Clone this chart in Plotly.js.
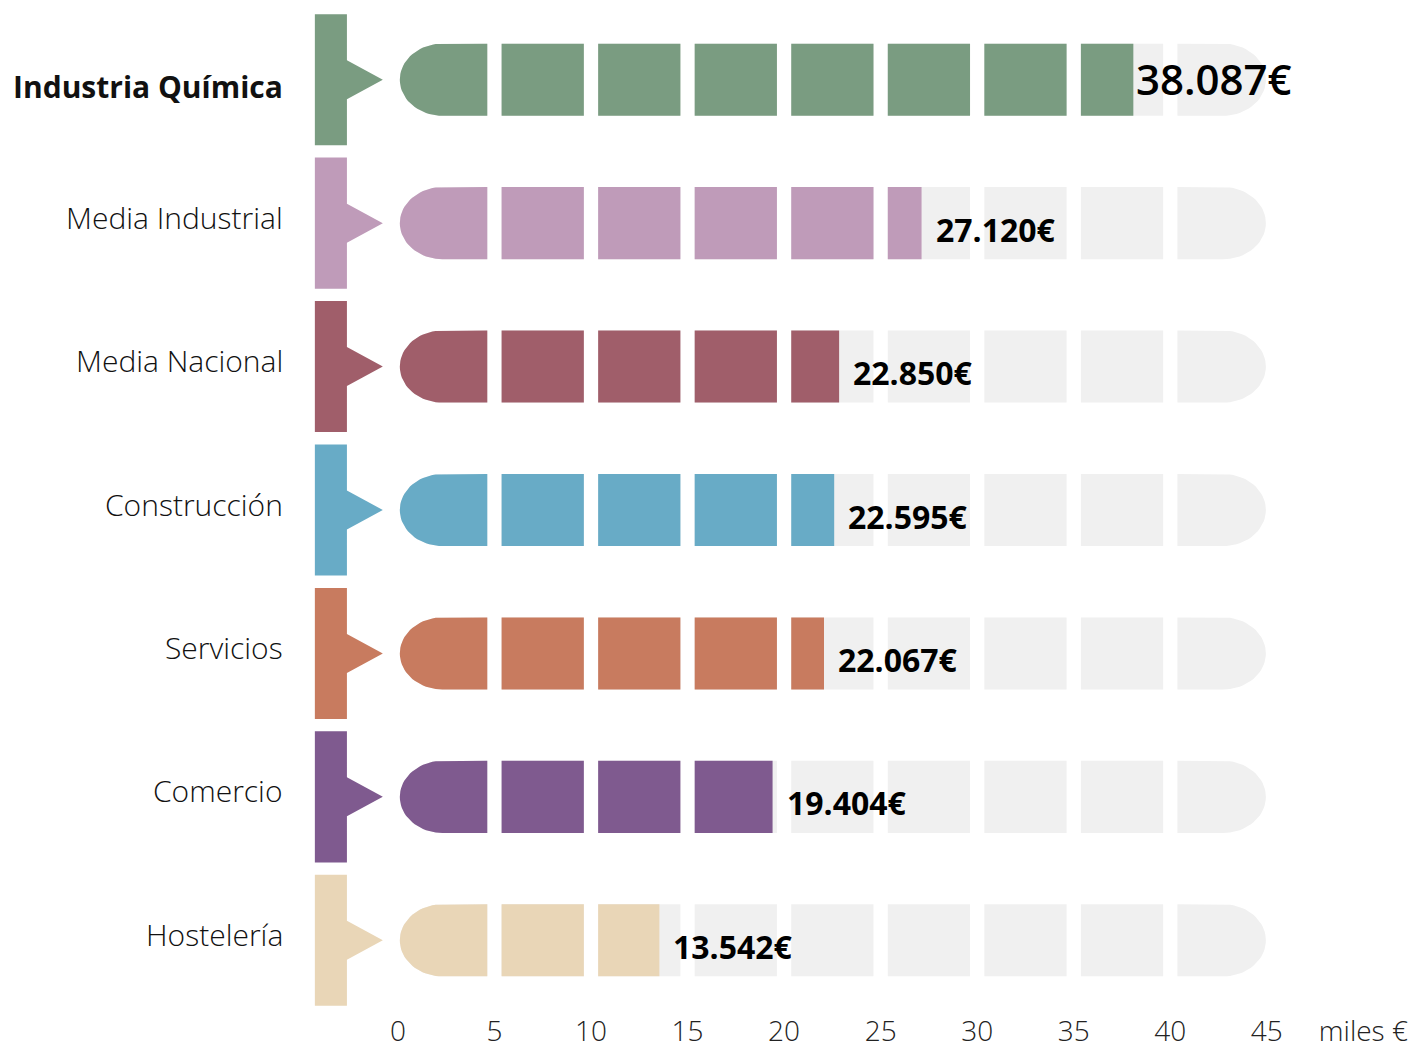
<!DOCTYPE html>
<html>
<head>
<meta charset="utf-8">
<script src="https://cdn.plot.ly/plotly-3.0.1.min.js"></script>
<style>
  html, body { margin: 0; padding: 0; background: #ffffff; }
  #chart { width: 1422px; height: 1049px; }
</style>
</head>
<body>
<div id="chart"></div>
<script>
// ---- data ----
const categories = ['Industria Química', 'Media Industrial', 'Media Nacional', 'Construcción', 'Servicios', 'Comercio', 'Hostelería'];
const values = [38.087, 27.120, 22.850, 22.595, 22.067, 19.404, 13.542];
const valueLabels = ['38.087€', '27.120€', '22.850€', '22.595€', '22.067€', '19.404€', '13.542€'];
const colors = ['#7A9C81', '#BF9BB9', '#A05E6A', '#68ABC6', '#C87B5F', '#7F5A8F', '#E9D6B7'];
const xTickVals = [0, 5, 10, 15, 20, 25, 30, 35, 40, 45, 50];
const xTickText = ['0', '5', '10', '15', '20', '25', '30', '35', '40', '45', 'miles €'];

// ---- styling constants ----
const STEP = 5, NSEG = 9, GAP = 0.37, BARW = 0.5025;
const RX = 2.2;            // horizontal radius of rounded ends (x units)
const GREY = '#F0F0F0';
const FONT = 'Open Sans, Noto Sans, sans-serif';

const rows = categories.map((_, i) => i);
function segStart(k) { return k === 0 ? 0.1 : k * STEP + GAP; }
function segEnd(k) { return k === NSEG - 1 ? NSEG * STEP - 0.05 : (k + 1) * STEP - GAP; }

// rounded-end segment outline (dir = -1 rounds left end, +1 rounds right end)
function roundedSeg(a, b, r, dir, xs, ys) {
  const ry = BARW / 2, n = 40;
  if (dir < 0) {
    xs.push(b, a + RX); ys.push(r - ry, r - ry);
    for (let i = 1; i < n; i++) {
      const t = Math.PI / 2 + Math.PI * i / n;
      xs.push(a + RX + RX * Math.cos(t)); ys.push(r - ry * Math.sin(t));
    }
    xs.push(a + RX, b, b); ys.push(r + ry, r + ry, r - ry);
  } else {
    xs.push(a, b - RX); ys.push(r - ry, r - ry);
    for (let i = 1; i < n; i++) {
      const t = -Math.PI / 2 + Math.PI * i / n;
      xs.push(b - RX + RX * Math.cos(t)); ys.push(r + ry * Math.sin(t));
    }
    xs.push(b - RX, a, a); ys.push(r + ry, r + ry, r - ry);
  }
  xs.push(null); ys.push(null);
}

const traces = [];
const common = { type: 'bar', orientation: 'h', width: BARW, hoverinfo: 'skip', showlegend: false };

// grey middle segments
const gm = { y: [], base: [], x: [] };
rows.forEach(r => {
  for (let k = 1; k < NSEG - 1; k++) {
    gm.y.push(r); gm.base.push(segStart(k)); gm.x.push(segEnd(k) - segStart(k));
  }
});
traces.push(Object.assign({}, common, { y: gm.y, base: gm.base, x: gm.x, marker: { color: GREY, line: { width: 0 } } }));

// coloured fill, middle segments
const cm = { y: [], base: [], x: [], c: [] };
rows.forEach(r => {
  for (let k = 1; k < NSEG; k++) {
    const a = segStart(k);
    if (values[r] > a) {
      cm.y.push(r); cm.base.push(a); cm.x.push(Math.min(segEnd(k), values[r]) - a); cm.c.push(colors[r]);
    }
  }
});
traces.push(Object.assign({}, common, { y: cm.y, base: cm.base, x: cm.x, marker: { color: cm.c, line: { width: 0 } } }));

// grey rounded ends
const ge = { x: [], y: [] };
rows.forEach(r => {
  roundedSeg(segStart(0), segEnd(0), r, -1, ge.x, ge.y);
  roundedSeg(segStart(NSEG - 1), segEnd(NSEG - 1), r, 1, ge.x, ge.y);
});
traces.push({
  type: 'scatter', mode: 'lines', fill: 'toself', hoverinfo: 'skip', showlegend: false,
  x: ge.x, y: ge.y, line: { width: 0, color: GREY }, fillcolor: GREY
});

// category tags (rectangle + arrow) and coloured first segment
const TX0 = -4.30, TX1 = -2.64, TIP = -0.78, TH = 0.457, AH = 0.136;
rows.forEach(r => {
  const xs = [TX0, TX1, TX1, TIP, TX1, TX1, TX0, TX0, null];
  const ys = [r - TH, r - TH, r - AH, r, r + AH, r + TH, r + TH, r - TH, null];
  roundedSeg(segStart(0), Math.min(segEnd(0), values[r]), r, -1, xs, ys);
  traces.push({
    type: 'scatter', mode: 'lines', fill: 'toself', hoverinfo: 'skip', showlegend: false,
    x: xs, y: ys, line: { width: 0, color: colors[r] }, fillcolor: colors[r]
  });
});

// value labels + category labels
const annotations = [];
rows.forEach(r => {
  annotations.push({
    x: values[r], y: r, xref: 'x', yref: 'y',
    text: valueLabels[r],
    showarrow: false, xanchor: 'left', yanchor: 'middle',
    xshift: r === 0 ? 1 : 12, yshift: r === 0 ? 1 : -6,
    font: { family: FONT, size: r === 0 ? 42 : 32, color: '#000000', weight: r === 0 ? 600 : 700 }
  });
  annotations.push({
    x: -4.5, y: r, xref: 'x', yref: 'y',
    text: r === 0 ? '<b>' + categories[r] + '</b>' : categories[r],
    showarrow: false, xanchor: 'right', yanchor: 'middle',
    xshift: -26, yshift: r === 0 ? -7 : 6,
    font: { family: FONT, size: 30, color: '#111111', weight: 300 }
  });
});

const layout = {
  width: 1422, height: 1049,
  margin: { l: 311, r: 20.4, t: 8.35, b: 37.3, pad: 0 },
  paper_bgcolor: '#ffffff', plot_bgcolor: '#ffffff',
  barmode: 'overlay',
  showlegend: false,
  xaxis: {
    range: [-4.5, 52], showgrid: false, zeroline: false, showline: false,
    tickmode: 'array', tickvals: xTickVals, ticktext: xTickText, ticks: '',
    tickfont: { family: FONT, size: 28, color: '#222222', weight: 300 },
    automargin: false, fixedrange: true
  },
  yaxis: {
    range: [6.5, -0.5], showgrid: false, zeroline: false, showline: false,
    showticklabels: false, ticks: '',
    automargin: false, fixedrange: true
  },
  annotations: annotations
};

Plotly.newPlot('chart', traces, layout, { displayModeBar: false, staticPlot: true });
</script>
</body>
</html>
